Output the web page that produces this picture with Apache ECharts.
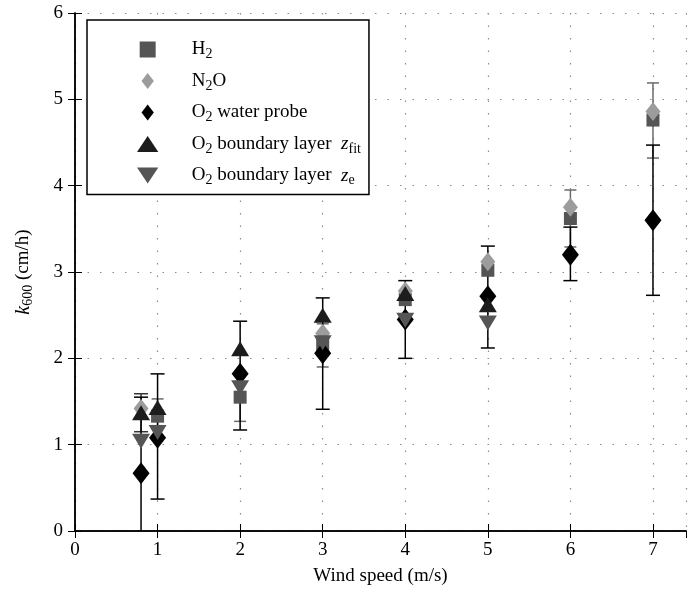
<!DOCTYPE html>
<html>
<head>
<meta charset="utf-8">
<script src="https://cdn.jsdelivr.net/npm/echarts@6/dist/echarts.min.js"></script>
<style>html,body{margin:0;padding:0;background:#fff}#c{width:691px;height:597px}</style>
</head>
<body>
<div id="c"></div>
<script>
// ---- data ----
const xTicks = [0, 1, 2, 3, 4, 5, 6, 7];
const yTicks = [0, 1, 2, 3, 4, 5, 6];

const xH2 = [1, 2, 3, 4, 5, 6, 7];
const h2 = [1.33, 1.55, 2.15, 2.68, 3.02, 3.62, 4.76];
const xH2Err = [1, 2, 3, 6, 7];
const h2Low = [1.22, 1.27, 1.90, 3.29, 4.32];
const h2High = [1.53, 1.83, 2.40, 3.95, 5.19];

const xN2O = [0.8, 3, 4, 5, 6, 7];
const n2o = [1.42, 2.29, 2.78, 3.12, 3.75, 4.86];

const xProbe = [0.8, 1, 2, 3, 4, 5, 6, 7];
const probe = [0.67, 1.08, 1.82, 2.06, 2.45, 2.72, 3.20, 3.60];
const probeLow = [-0.21, 0.37, 1.17, 1.41, 2.00, 2.12, 2.90, 2.73];
const probeHigh = [1.55, 1.82, 2.43, 2.70, 2.90, 3.30, 3.52, 4.47];

const xBL = [0.8, 1, 2, 3, 4, 5];
const zfit = [1.37, 1.43, 2.11, 2.50, 2.75, 2.62];
const ze = [1.04, 1.14, 1.66, 2.18, 2.44, 2.41];
const xZfitErr = [0.8];
const zfitLow = [1.15];
const zfitHigh = [1.59];

const names = ['H2', 'N2O', 'O2 water probe', 'O2 boundary layer zfit', 'O2 boundary layer ze'];
const legendRich = {
  'H2': '{n|H}{s|2}',
  'N2O': '{n|N}{s|2}{n|O}',
  'O2 water probe': '{n|O}{s|2}{n| water probe}',
  'O2 boundary layer zfit': '{n|O}{s|2}{n| boundary layer  }{i|z}{s|fit}',
  'O2 boundary layer ze': '{n|O}{s|2}{n| boundary layer  }{i|z}{s|e}'
};

// ---- helpers ----
const FONT = 'Liberation Serif';
function pts(xs, ys) { return xs.map((x, i) => [x, ys[i]]); }
function errData(xs, lo, hi) { return xs.map((x, i) => [x, lo[i], hi[i]]); }
function errSeries(data, color, capHalf) {
  return {
    type: 'custom', silent: true, clip: true, z: 2,
    data: data,
    encode: { x: 0, y: [1, 2] },
    renderItem: function (params, api) {
      const x = api.value(0);
      const pLo = api.coord([x, api.value(1)]);
      const pHi = api.coord([x, api.value(2)]);
      const st = { stroke: color, lineWidth: 1.5 };
      return {
        type: 'group',
        children: [
          { type: 'line', shape: { x1: pLo[0], y1: pLo[1], x2: pHi[0], y2: pHi[1] }, style: st },
          { type: 'line', shape: { x1: pHi[0] - capHalf, y1: pHi[1], x2: pHi[0] + capHalf, y2: pHi[1] }, style: st },
          { type: 'line', shape: { x1: pLo[0] - capHalf, y1: pLo[1], x2: pLo[0] + capHalf, y2: pLo[1] }, style: st }
        ]
      };
    }
  };
}

const SQUARE = 'path://M0,0 L10,0 L10,10 L0,10 Z';
const DIAMOND = 'path://M5,0 L10,6.5 L5,13 L0,6.5 Z';
const TRI_UP = 'path://M5,0 L10,7.5 L0,7.5 Z';
const TRI_DN = 'path://M0,0 L10,0 L5,7.5 Z';

const chart = echarts.init(document.getElementById('c'), null, { renderer: 'canvas' });
const axisLine = { show: true, lineStyle: { color: '#000', width: 1.5 } };
const tick = { show: true, inside: true, length: 7, lineStyle: { color: '#000', width: 1 } };
const labelStyle = { color: '#000', fontFamily: FONT, fontSize: 19 };
const gridLine = { show: true, lineStyle: { color: '#8c8c8c', width: 1.2, type: [1.5, 11] } };

chart.setOption({
  animation: false,
  backgroundColor: '#fff',
  grid: { left: 75, right: 5, top: 13, bottom: 66, containLabel: false },
  xAxis: [
    {
      type: 'value', min: 0, max: 7.4, interval: 1,
      axisLine: axisLine, axisTick: tick, splitLine: gridLine,
      axisLabel: Object.assign({ margin: 10, showMaxLabel: false }, labelStyle),
      name: 'Wind speed (m/s)', nameLocation: 'middle', nameGap: 36,
      nameTextStyle: { color: '#000', fontFamily: FONT, fontSize: 19 }
    },
    {
      type: 'value', position: 'top', min: 0, max: 7.4, interval: 1,
      axisLine: axisLine, axisTick: tick, splitLine: { show: false }, axisLabel: { show: false }
    }
  ],
  yAxis: [
    {
      type: 'value', min: 0, max: 6, interval: 1,
      axisLine: axisLine, axisTick: tick, splitLine: gridLine,
      axisLabel: Object.assign({ margin: 12 }, labelStyle),
      name: '{i|k}{s|600}{n| (cm/h)}', nameLocation: 'middle', nameGap: 40,
      nameTextStyle: {
        color: '#000', fontFamily: FONT, fontSize: 19,
        rich: {
          i: { fontFamily: FONT, fontSize: 20, fontStyle: 'italic', color: '#000' },
          s: { fontFamily: FONT, fontSize: 14, color: '#000', padding: [9, 0, 0, 0] },
          n: { fontFamily: FONT, fontSize: 19, color: '#000' }
        }
      }
    },
    {
      type: 'value', position: 'right', min: 0, max: 6, interval: 1,
      axisLine: axisLine, axisTick: tick, splitLine: { show: false }, axisLabel: { show: false }
    }
  ],
  legend: {
    orient: 'vertical', left: 87, top: 20,
    data: names,
    backgroundColor: '#fff', borderColor: '#000', borderWidth: 1.5,
    padding: [20, 8, 7, 50],
    itemWidth: 78, itemHeight: 16, itemGap: 10,
    selectedMode: false,
    formatter: function (n) { return legendRich[n]; },
    textStyle: {
      color: '#000', fontFamily: FONT, fontSize: 19,
      rich: {
        n: { fontFamily: FONT, fontSize: 19, color: '#000' },
        i: { fontFamily: FONT, fontSize: 19, fontStyle: 'italic', color: '#000' },
        s: { fontFamily: FONT, fontSize: 14, color: '#000', padding: [10, 0, 0, 0] }
      }
    }
  },
  series: [
    errSeries(errData(xH2Err, h2Low, h2High), '#6a6a6a', 6),
    errSeries(errData(xZfitErr, zfitLow, zfitHigh), '#333', 7),
    errSeries(errData(xProbe, probeLow, probeHigh), '#000', 7),
    {
      name: names[0], type: 'scatter', z: 3, data: pts(xH2, h2),
      symbol: SQUARE, symbolSize: [13, 13],
      itemStyle: { color: '#555555', opacity: 1 }
    },
    {
      name: names[1], type: 'scatter', z: 3, data: pts(xN2O, n2o),
      symbol: DIAMOND, symbolSize: [15, 19],
      itemStyle: { color: '#9c9c9c', opacity: 1 }
    },
    {
      name: names[2], type: 'scatter', z: 3, data: pts(xProbe, probe),
      symbol: DIAMOND, symbolSize: [17, 22],
      itemStyle: { color: '#000000', opacity: 1 }
    },
    {
      name: names[3], type: 'scatter', z: 3, data: pts(xBL, zfit),
      symbol: TRI_UP, symbolSize: [18, 15],
      itemStyle: { color: '#1c1c1c', opacity: 1 }
    },
    {
      name: names[4], type: 'scatter', z: 3, data: pts(xBL, ze),
      symbol: TRI_DN, symbolSize: [18, 15],
      itemStyle: { color: '#555555', opacity: 1 }
    }
  ]
});
</script>
</body>
</html>
